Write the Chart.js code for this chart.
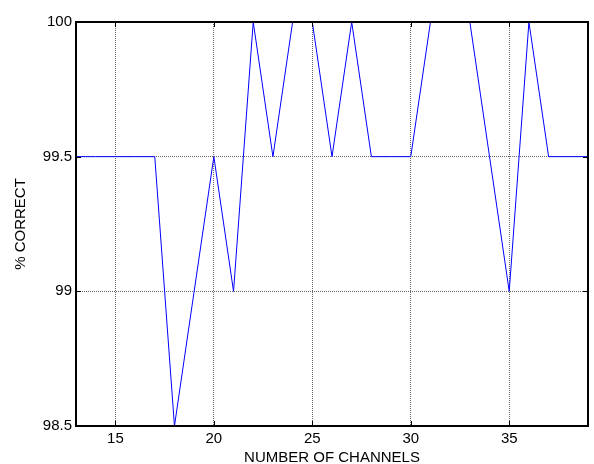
<!DOCTYPE html>
<html>
<head>
<meta charset="utf-8">
<script src="https://cdn.jsdelivr.net/npm/chart.js@4/dist/chart.umd.min.js"></script>
<style>
  html, body { margin: 0; padding: 0; background: #fff; }
  #wrap { width: 594px; height: 464px; }
</style>
</head>
<body>
<div id="wrap"><canvas id="chart" width="594" height="464"></canvas></div>
<script>
// number of channels vs % correct
const channels = [13, 14, 15, 16, 17, 18, 19, 20, 21, 22, 23, 24, 25, 26,
  27, 28, 29, 30, 31, 32, 33, 34, 35, 36, 37, 38, 39];
const pctCorrect = [99.5, 99.5, 99.5, 99.5, 99.5, 98.5, 99.0, 99.5, 99.0, 100, 99.5, 100, 100, 99.5,
  100, 99.5, 99.5, 99.5, 100, 100, 100, 99.5, 99.0, 100, 99.5, 99.5, 99.5];
const xTicks = [15, 20, 25, 30, 35];
const yTicks = [98.5, 99, 99.5, 100];

const FONT = { family: 'Liberation Sans, Arial, sans-serif', size: 15, lineHeight: 1 };

// box around the plot + small inward ticks, matlab style
const boxPlugin = {
  id: 'box',
  afterDatasetsDraw(chart) {
    const { ctx, chartArea: a, scales } = chart;
    ctx.save();
    ctx.strokeStyle = '#000';
    ctx.lineWidth = 1;
    ctx.beginPath();
    xTicks.forEach(v => {
      const px = Math.round(scales.x.getPixelForValue(v)) + 0.5;
      ctx.moveTo(px, a.bottom); ctx.lineTo(px, a.bottom - 5);
      ctx.moveTo(px, a.top); ctx.lineTo(px, a.top + 5);
    });
    yTicks.forEach(v => {
      const py = Math.round(scales.y.getPixelForValue(v)) + 0.5;
      ctx.moveTo(a.left, py); ctx.lineTo(a.left + 5, py);
      ctx.moveTo(a.right, py); ctx.lineTo(a.right - 5, py);
    });
    ctx.stroke();
    ctx.lineWidth = 2;
    ctx.strokeRect(a.left, a.top, a.right - a.left, a.bottom - a.top);
    ctx.restore();
  }
};

new Chart(document.getElementById('chart'), {
  type: 'line',
  data: {
    datasets: [{
      data: channels.map((c, i) => ({ x: c, y: pctCorrect[i] })),
      borderColor: '#0000ff',
      borderWidth: 1,
      pointRadius: 0,
      tension: 0,
      fill: false,
      clip: 2
    }]
  },
  options: {
    responsive: false,
    animation: false,
    events: [],
    layout: { padding: { top: 22, right: 6, left: 0, bottom: 0 } },
    plugins: { legend: { display: false }, tooltip: { enabled: false } },
    scales: {
      x: {
        type: 'linear',
        min: 13,
        max: 39,
        afterBuildTicks: s => { s.ticks = xTicks.map(v => ({ value: v })); },
        afterFit: s => { s.height = 38; },
        grid: { color: '#666', lineWidth: 1, drawTicks: false },
        border: { display: false, dash: [1, 1] },
        ticks: { color: '#000', font: FONT, padding: 5, maxRotation: 0 },
        title: {
          display: true, text: 'NUMBER OF CHANNELS', color: '#000', font: FONT,
          padding: { top: 0, bottom: -1 }
        }
      },
      y: {
        min: 98.5,
        max: 100,
        afterBuildTicks: s => { s.ticks = yTicks.map(v => ({ value: v })); },
        afterFit: s => { s.width = 76; },
        grid: { color: '#666', lineWidth: 1, drawTicks: false },
        border: { display: false, dash: [1, 1] },
        ticks: { color: '#000', font: FONT, padding: 4, callback: v => String(v) },
        title: {
          display: true, text: '% CORRECT', color: '#000', font: FONT,
          padding: { top: 13, bottom: 0 }
        }
      }
    }
  },
  plugins: [boxPlugin]
});
</script>
</body>
</html>
